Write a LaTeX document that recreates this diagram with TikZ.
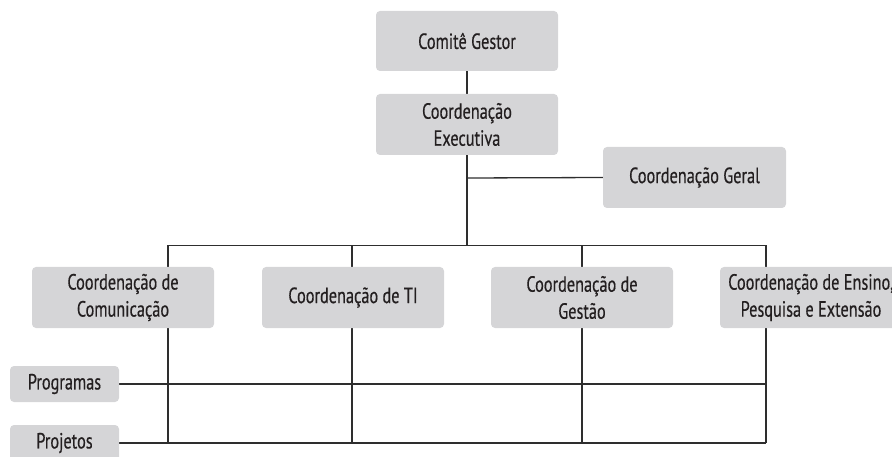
\documentclass[tikz,border=0pt]{standalone}
\usepackage{fontspec}
\setmainfont{PT Sans}[FakeStretch=0.74,FakeBold=0.4]
\usetikzlibrary{backgrounds}
\definecolor{boxgray}{HTML}{D5D5D7}
\definecolor{linegray}{HTML}{2E2E2E}
\definecolor{txt}{HTML}{231F20}
\tikzset{
  orgbox/.style={rectangle, rounded corners=4pt, fill=boxgray, draw=none,
    minimum width=182pt, minimum height=61pt, inner sep=0pt, align=center,
    text=txt, font=\fontsize{22}{27}\selectfont},
  smallbox/.style={orgbox, minimum width=109pt, minimum height=36pt},
  conn/.style={draw=linegray, line width=1.3pt}
}
\begin{document}
\begin{tikzpicture}[x=1pt,y=-1pt]
\useasboundingbox (0,0) rectangle (892,457);
\node[orgbox, minimum height=60pt] (cg) at (467,41) {Comitê Gestor};
\node[orgbox] (ce) at (467,124.5) {Coordenação\\Executiva};
\node[orgbox, minimum width=183pt] (geral) at (694.5,177.5) {Coordenação Geral};
\node[orgbox] (com) at (123,297.5) {Coordenação de\\Comunicação};
\node[orgbox] (ti) at (353,297.5) {Coordenação de TI};
\node[orgbox] (ges) at (582,297.5) {Coordenação de\\Gestão};
\node[orgbox] (ens) at (811,297.5) {Coordenação de Ensino,\\Pesquisa e Extensão};
\node[smallbox] (prog) at (64.5,384) {Programas};
\node[smallbox] (proj) at (64.5,443) {Projetos};
\coordinate (busm) at (467,245.5);
\coordinate (geralj) at (467,178);
\coordinate (busl) at (168,245.5);
\coordinate (busr) at (766,245.5);
\coordinate (tib) at (352,245.5);
\coordinate (gesb) at (582,245.5);
\coordinate (coml) at (168,443);
\coordinate (til) at (352,443);
\coordinate (gesl) at (582,443);
\coordinate (ensl) at (766,443);
\coordinate (progr) at (766,384);
\begin{scope}[on background layer]
\draw[conn] (cg.south) -- (ce.north);
\draw[conn] (ce.south) -- (busm);
\draw[conn] (geralj) -- (geral.west);
\draw[conn] (busl) -- (busr);
\draw[conn] (busl) -- (coml);
\draw[conn] (tib) -- (til);
\draw[conn] (gesb) -- (gesl);
\draw[conn] (busr) -- (ensl);
\draw[conn] (prog.east) -- (progr);
\draw[conn] (proj.east) -- (ensl);
\end{scope}
\end{tikzpicture}
\end{document}
